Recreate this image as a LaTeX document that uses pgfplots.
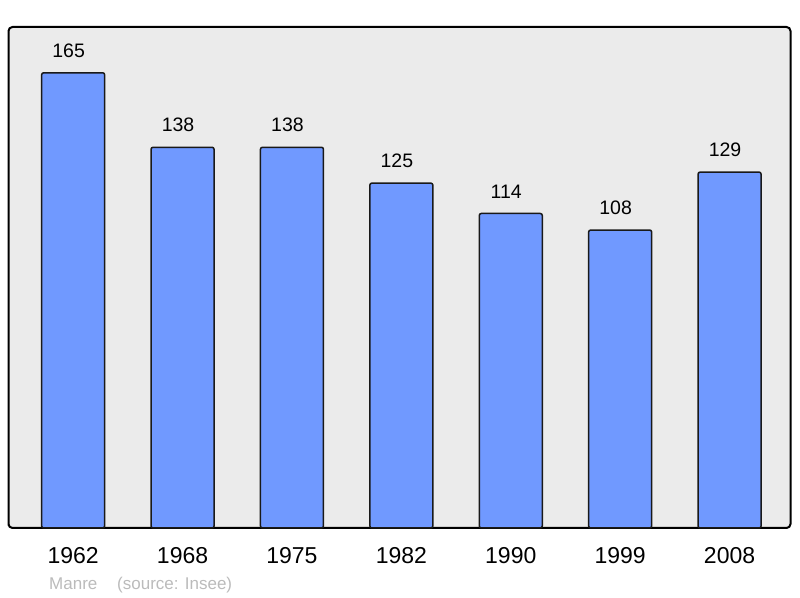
\documentclass[border=0pt]{standalone}
\usepackage{pgfplots}
\pgfplotsset{compat=1.18}
\usepackage{fontspec}
\setmainfont{Liberation Sans}
\definecolor{barblue}{HTML}{7099FF}
\definecolor{bggray}{HTML}{EBEBEB}
\definecolor{srcgray}{HTML}{BBBBBB}

\begin{document}
\begin{tikzpicture}
\begin{axis}[
    scale only axis,
    width=782pt, height=501pt,
    xmin=-0.591, xmax=6.557,
    ymin=0, ymax=181.6,
    ybar, bar width=63pt, bar shift=0pt,
    xtick={0,...,6},
    xticklabels={1962,1968,1975,1982,1990,1999,2008},
    ytick=\empty,
    major tick length=0pt,
    xticklabel style={font=\fontsize{23}{26}\selectfont, inner sep=0pt, anchor=north, yshift=-19pt},
    axis line style={line width=2pt, rounded corners=4pt},
    axis background/.style={fill=bggray, rounded corners=4pt},
    /pgf/number format/assume math mode=true,
    nodes near coords,
    nodes near coords style={font=\fontsize{19.5}{21}\selectfont, inner sep=0pt, anchor=south, yshift=14.5pt, xshift=-4.5pt},
    clip=false,
]
\addplot[fill=barblue, draw=black!90, line width=1.5pt, rounded corners=2pt]
  coordinates {(0,165) (1,138) (2,138) (3,125) (4,114) (5,108) (6,129)};
\node[anchor=base west, text=srcgray, inner sep=0pt, font=\fontsize{17}{19}\selectfont]
  at ([xshift=40.5pt, yshift=-62pt]rel axis cs:0,0) {Manre};
\node[anchor=base west, text=srcgray, inner sep=0pt, font=\fontsize{17}{19}\selectfont]
  at ([xshift=108.5pt, yshift=-62pt]rel axis cs:0,0) {(source: Insee)};
\end{axis}
\useasboundingbox ([shift={(-8.5pt,-70pt)}]current axis.south west) rectangle ([shift={(9.5pt,27pt)}]current axis.north east);
\end{tikzpicture}
\end{document}
